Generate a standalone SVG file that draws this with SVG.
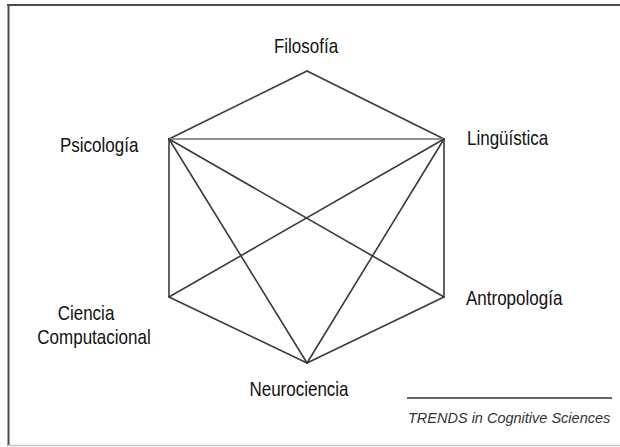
<svg xmlns="http://www.w3.org/2000/svg" width="620" height="447" viewBox="0 0 620 447">
<style>
.lbl{font-family:"Liberation Sans",Arial,sans-serif;font-size:20px;fill:#111}
.edge{stroke:#3a3a3a;stroke-width:1.6;fill:none;stroke-linecap:round}
.light{stroke:#909090;stroke-width:2}
.src{font-family:"Liberation Sans",Arial,sans-serif;font-size:14.5px;font-style:italic;fill:#333}
</style>
<rect width="620" height="447" fill="#fff"/>
<g id="frame">
<line x1="7" y1="5" x2="620" y2="5" stroke="#4a4a4a" stroke-width="2"/>
<line x1="8.5" y1="4" x2="8.5" y2="446" stroke="#4a4a4a" stroke-width="2"/>
<line x1="8" y1="445.5" x2="620" y2="445.5" stroke="#c8c8c8" stroke-width="1.5"/>
</g>
<g id="connectors">
<line class="edge" x1="307" y1="71" x2="169" y2="139"/>
<line class="edge" x1="307" y1="71" x2="444" y2="139"/>
<line class="edge light" x1="169" y1="139" x2="444" y2="139"/>
<line class="edge" x1="169" y1="139" x2="169" y2="297"/>
<line class="edge" x1="444" y1="139" x2="444" y2="297"/>
<line class="edge" x1="169" y1="297" x2="307" y2="363"/>
<line class="edge" x1="444" y1="297" x2="307" y2="363"/>
<line class="edge" x1="169" y1="139" x2="307" y2="363"/>
<line class="edge" x1="169" y1="139" x2="444" y2="297"/>
<line class="edge" x1="444" y1="139" x2="169" y2="297"/>
<line class="edge" x1="444" y1="139" x2="307" y2="363"/>
</g>
<g id="filosofia"><text class="lbl" transform="translate(306,52.5) scale(0.85,1)" text-anchor="middle">Filosofía</text></g>
<g id="psicologia"><text class="lbl" transform="translate(60,152) scale(0.85,1)">Psicología</text></g>
<g id="linguistica"><text class="lbl" transform="translate(467,145) scale(0.85,1)">Lingüística</text></g>
<g id="antropologia"><text class="lbl" transform="translate(466,305) scale(0.85,1)">Antropología</text></g>
<g id="ciencia-computacional"><text class="lbl" transform="translate(86,320) scale(0.85,1)" text-anchor="middle">Ciencia</text><text class="lbl" transform="translate(94,343.5) scale(0.85,1)" text-anchor="middle">Computacional</text></g>
<g id="neurociencia"><text class="lbl" transform="translate(299,396) scale(0.85,1)" text-anchor="middle">Neurociencia</text></g>
<g id="source">
<line x1="407" y1="398" x2="612" y2="398" stroke="#333" stroke-width="1.3"/>
<text class="src" x="408" y="423">TRENDS in Cognitive Sciences</text>
</g>
</svg>
